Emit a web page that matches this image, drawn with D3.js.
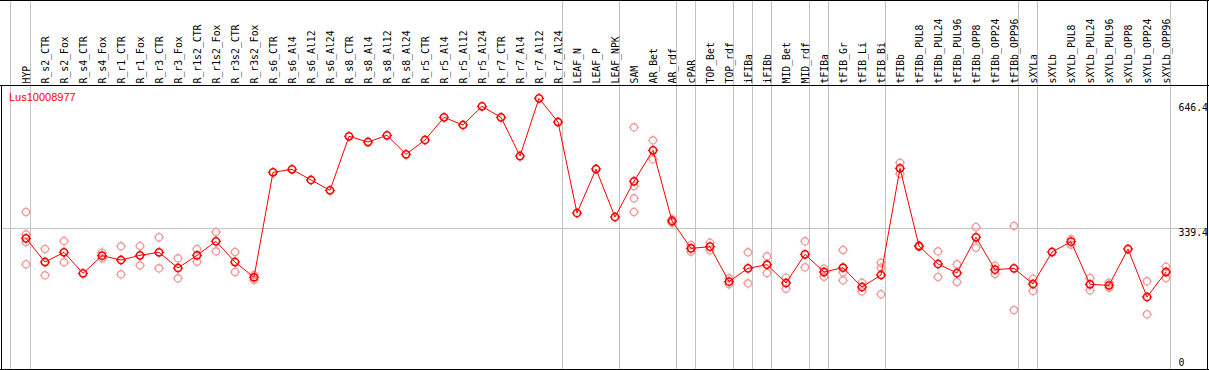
<!DOCTYPE html>
<html>
<head>
<meta charset="utf-8">
<script src="https://cdn.jsdelivr.net/npm/d3@7/dist/d3.min.js"></script>
<style>
  body { margin: 0; background: #fff; }
  svg { display: block; }
</style>
</head>
<body>
<div id="chart"></div>
<script>
// Sample names along the top
const categories = [
    'HYP', 'R_s2_CTR', 'R_s2_Fox', 'R_s4_CTR', 'R_s4_Fox', 'R_r1_CTR', 'R_r1_Fox',
    'R_r3_CTR', 'R_r3_Fox', 'R_r1s2_CTR', 'R_r1s2_Fox', 'R_r3s2_CTR', 'R_r3s2_Fox',
    'R_s6_CTR', 'R_s6_Al4', 'R_s6_Al12', 'R_s6_Al24', 'R_s8_CTR', 'R_s8_Al4', 'R_s8_Al12',
    'R_s8_Al24', 'R_r5_CTR', 'R_r5_Al4', 'R_r5_Al12', 'R_r5_Al24', 'R_r7_CTR', 'R_r7_Al4',
    'R_r7_Al12', 'R_r7_Al24', 'LEAF_N', 'LEAF_P', 'LEAF_NPK', 'SAM', 'AR_Bet', 'AR_rdf',
    'cPAR', 'TOP_Bet', 'TOP_rdf', 'iFIBa', 'iFIBb', 'MID_Bet', 'MID_rdf', 'tFIBa',
    'tFIB_Gr', 'tFIB_Li', 'tFIB_Bi', 'tFIBb', 'tFIBb_PUL8', 'tFIBb_PUL24', 'tFIBb_PUL96',
    'tFIBb_OPP8', 'tFIBb_OPP24', 'tFIBb_OPP96', 'sXYLa', 'sXYLb', 'sXYLb_PUL8',
    'sXYLb_PUL24', 'sXYLb_PUL96', 'sXYLb_OPP8', 'sXYLb_OPP24', 'sXYLb_OPP96'
];

// Mean expression per sample
const meanValues = [
    314.6, 256.1, 280.0, 228.1, 271.8, 261.1, 272.6, 280.0, 241.3, 272.6, 307.2, 256.1, 218.3,
    477.6, 485.0, 458.7, 433.1, 566.5, 552.5, 569.0, 522.1, 557.5, 613.4, 594.5, 640.6,
    613.4, 517.9, 660.4, 601.9, 377.2, 485.8, 367.3, 455.4, 531.9, 357.4, 289.9, 294.0,
    207.6, 240.5, 249.5, 204.3, 275.1, 231.4, 242.1, 194.4, 224.0, 487.5, 295.6, 251.2,
    229.0, 317.1, 237.2, 240.5, 201.8, 280.8, 306.4, 201.0, 198.5, 288.2, 169.7, 231.4
];

// Individual replicates per sample (empty where none are visible)
const replicateValues = [
    [379.6, 324.4, 305.5, 250.4], [288.2, 223.2], [308.0, 255.3], [], [279.2, 265.2],
    [294.8, 225.7], [295.6, 247.9], [317.1, 240.5], [265.2, 215.8], [288.2, 257.0],
    [330.2, 282.5], [280.8, 231.4], [224.0, 211.7],
    [], [], [], [], [], [], [], [], [], [], [], [], [], [], [], [], [], [], [],
    [588.7, 443.8, 413.4, 379.6], [556.6, 509.7], [361.5, 353.3], [298.1, 281.7],
    [303.9, 284.9], [215.8, 201.0], [280.0, 203.4], [270.1, 229.0], [217.4, 190.3],
    [307.2, 243.0], [239.7, 219.9], [285.8, 230.6, 210.8], [205.1, 183.7],
    [254.5, 242.1, 176.3], [501.5, 474.1], [297.0, 294.0], [282.5, 219.1], [250.4, 206.7],
    [342.6, 291.5], [247.1, 226.5], [345.1, 137.6], [215.0, 184.5], [], [312.1, 299.0],
    [216.6, 186.1], [205.1, 192.7], [], [208.4, 126.9], [244.6, 216.6]
];

// Samples after which a group separator is drawn
const groupEnds = [
    'HYP', 'R_r7_Al24', 'LEAF_NPK', 'AR_rdf', 'cPAR', 'TOP_rdf', 'iFIBa', 'iFIBb',
    'MID_rdf', 'tFIBa', 'tFIB_Bi', 'tFIBb_OPP96', 'sXYLa', 'sXYLb_OPP96'
];

// Right-hand axis labels
const yTickValues = [646.4, 339.4, 0];
const yGridValues = [339.4];
const geneName = 'Lus10008977';

const width = 1209, height = 370;
const headerBottom = 85.5;

const svg = d3.select('#chart').append('svg')
    .attr('width', width)
    .attr('height', height);

const x = d3.scalePoint()
    .domain(categories)
    .range([26, 1166]);

const y = d3.scaleLinear()
    .domain([0, 646.4])
    .range([365.7, 104]);

// Vertical group separators (run through the header too)
const sepX = [x(categories[0]) - 15.5].concat(groupEnds.map(c => x(c) + 4.3));
svg.append('g')
    .selectAll('line')
    .data(sepX)
    .enter()
    .append('line')
    .attr('x1', d => Math.floor(d) + 0.5)
    .attr('x2', d => Math.floor(d) + 0.5)
    .attr('y1', 0)
    .attr('y2', height)
    .attr('stroke', '#c4c4c4')
    .attr('stroke-width', 1);

// Horizontal grid line
svg.append('g')
    .selectAll('line')
    .data(yGridValues)
    .enter()
    .append('line')
    .attr('x1', 1)
    .attr('x2', width - 1)
    .attr('y1', d => Math.round(y(d)) + 0.5)
    .attr('y2', d => Math.round(y(d)) + 0.5)
    .attr('stroke', '#c4c4c4')
    .attr('stroke-width', 1);

// Frame
svg.append('line').attr('x1', 0).attr('x2', width).attr('y1', 0.5).attr('y2', 0.5)
    .attr('stroke', '#000');
svg.append('line').attr('x1', 0).attr('x2', width).attr('y1', headerBottom).attr('y2', headerBottom)
    .attr('stroke', '#000');
svg.append('line').attr('x1', 0).attr('x2', width).attr('y1', 369.5).attr('y2', 369.5)
    .attr('stroke', '#000');
svg.append('line').attr('x1', 1.5).attr('x2', 1.5).attr('y1', headerBottom).attr('y2', height)
    .attr('stroke', '#000');
svg.append('line').attr('x1', width - 1.5).attr('x2', width - 1.5).attr('y1', 0).attr('y2', height)
    .attr('stroke', '#000');

// Rotated sample labels
svg.append('g')
    .selectAll('text')
    .data(categories)
    .enter()
    .append('text')
    .attr('transform', d => `translate(${x(d) + 4},83.5)rotate(-90)`)
    .attr('text-anchor', 'start')
    .style('font-family', '"DejaVu Sans Mono", monospace')
    .style('font-size', '9.8px')
    .style('fill', '#000')
    .text(d => d);

// Right axis labels
svg.append('g')
    .selectAll('text')
    .data(yTickValues)
    .enter()
    .append('text')
    .attr('x', 1178.5)
    .attr('y', d => d === 0 ? y(d) : y(d) + 7.4)
    .style('font-family', '"DejaVu Sans Mono", monospace')
    .style('font-size', '9.8px')
    .style('fill', '#000')
    .text(d => d);

// Gene name
svg.append('text')
    .attr('x', 9)
    .attr('y', 101)
    .style('font-family', '"Liberation Sans", Arial, sans-serif')
    .style('font-size', '11px')
    .style('fill', '#ff0000')
    .text(geneName);

// Marker: small circle with four ticks
function drawMarker(g, cx, cy, color, sw) {
    const m = g.append('g').attr('transform', `translate(${cx},${cy})`);
    m.append('circle')
        .attr('r', 3.6)
        .attr('fill', 'none')
        .attr('stroke', color)
        .attr('stroke-width', sw);
    [[0, -1], [0, 1], [-1, 0], [1, 0]].forEach(([dx, dy]) => {
        m.append('line')
            .attr('x1', dx * 3.6).attr('y1', dy * 3.6)
            .attr('x2', dx * 5.2).attr('y2', dy * 5.2)
            .attr('stroke', color)
            .attr('stroke-width', 1);
    });
}

// Replicates
const repGroup = svg.append('g').attr('class', 'replicates');
categories.forEach((c, i) => {
    replicateValues[i].forEach(v => drawMarker(repGroup, x(c), y(v), '#f09c9c', 1.3));
});

// Mean line
const line = d3.line()
    .x((d, i) => x(categories[i]))
    .y(d => y(d));

svg.append('path')
    .datum(meanValues)
    .attr('d', line)
    .attr('fill', 'none')
    .attr('stroke', '#ff0000')
    .attr('stroke-width', 1);

// Mean markers
const meanGroup = svg.append('g').attr('class', 'means');
categories.forEach((c, i) => {
    drawMarker(meanGroup, x(c), y(meanValues[i]), '#ff0000', 1.6);
});
</script>
</body>
</html>
